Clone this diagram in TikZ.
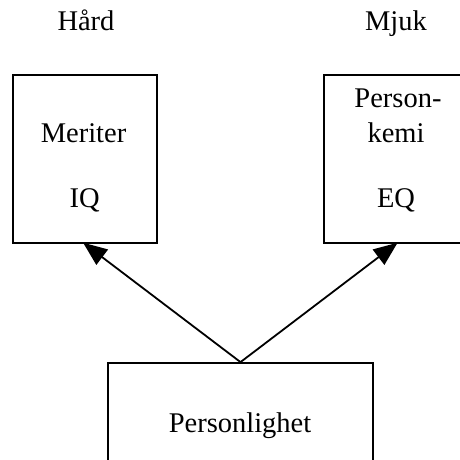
\documentclass[tikz,border=0pt]{standalone}
\usepackage{fontspec}
\setmainfont{Liberation Serif}
\usetikzlibrary{arrows.meta}
\begin{document}
\begin{tikzpicture}[x=1pt,y=-1pt,
  box/.style={draw,line width=1.8pt,rectangle,inner sep=0pt},
  lbl/.style={anchor=base,inner sep=0pt,font=\fontsize{28.5}{34}\selectfont},
  link/.style={line width=1.8pt,-{Triangle[length=24pt,width=19pt]},shorten >=-2pt}]
\useasboundingbox (0,0) rectangle (460,459);
\clip (0,0) rectangle (460,459);
% column headings
\node[lbl] (hard) at (86,30) {Hård};
\node[lbl] (soft) at (396,30) {Mjuk};
% the three boxes
\node[box,minimum width=144pt,minimum height=168pt] (merit) at (84.7,159) {};
\node[box,minimum width=144pt,minimum height=168pt] (chem) at (396,159) {};
\node[box,minimum width=265pt,minimum height=120pt] (pers) at (240.5,423) {};
% box texts
\node[lbl] (meriter) at (83.5,142) {Meriter};
\node[lbl] (iq) at (84.7,207) {IQ};
\node[lbl] (person) at (398,107) {Person-};
\node[lbl] (kemi) at (396,142) {kemi};
\node[lbl] (eq) at (396,207) {EQ};
\node[lbl] (perstxt) at (240,432) {Personlighet};
% arrows
\draw[link] (pers.north) -- (merit.south);
\draw[link] (pers.north) -- (chem.south);
\end{tikzpicture}
\end{document}
